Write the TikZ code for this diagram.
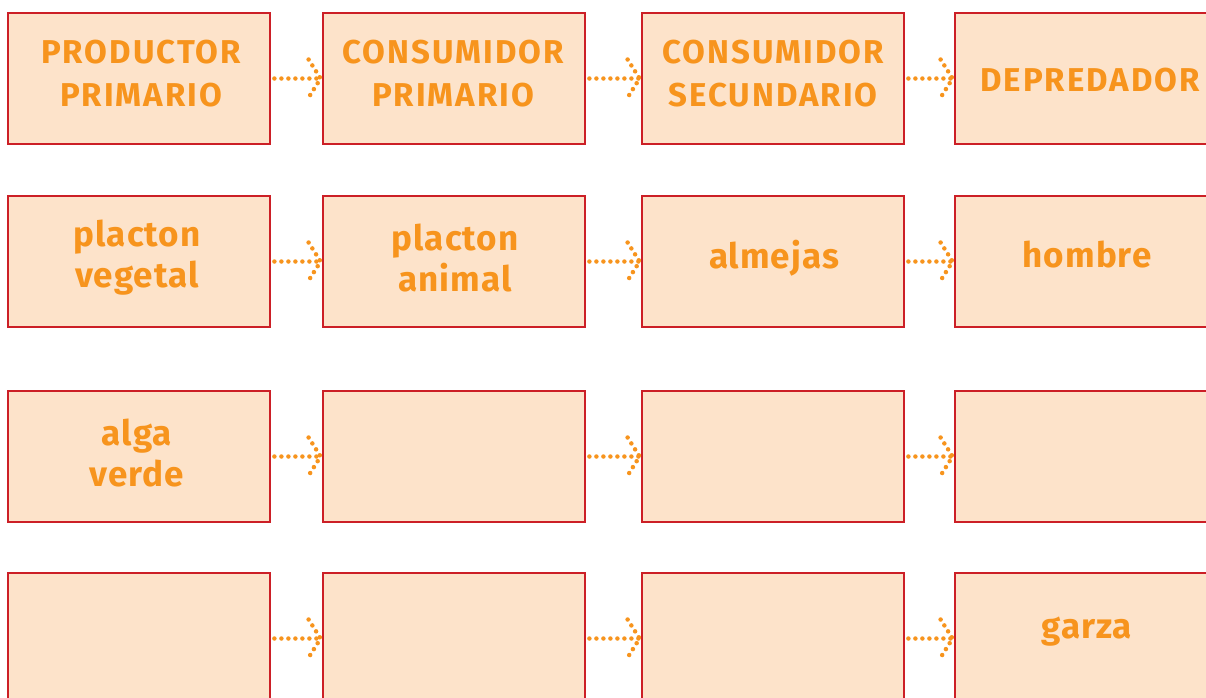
\documentclass[tikz,border=0pt]{standalone}
\usepackage{fontspec}
\setmainfont{Fira Sans}
\definecolor{boxfill}{HTML}{FDE3CA}
\definecolor{boxline}{HTML}{CC1F26}
\definecolor{txt}{HTML}{F7941D}
\tikzset{
  box/.style={draw=boxline, fill=boxfill, line width=2.8pt, minimum width=262pt, minimum height=131pt, inner sep=0pt},
  captxt/.style={text=txt, font=\fontsize{33}{43}\selectfont\bfseries\addfontfeature{LetterSpace=6}, align=center, inner sep=0pt},
  lowtxt/.style={text=txt, font=\fontsize{35}{41}\selectfont\bfseries\addfontfeature{LetterSpace=3}, align=center, inner sep=0pt},
  dotline/.style={draw=txt, line width=4.5pt, line cap=round, dash pattern=on 0pt off 7pt},
}
\begin{document}
\begin{tikzpicture}[x=1pt,y=-1pt]
\useasboundingbox (0,0) rectangle (1206,697);
% boxes
\foreach \r/\cy in {1/78.5,2/261.5,3/456.5,4/638.5}{
  \foreach \c/\cx in {1/139,2/454,3/773,4/1086}{
    \node[box] (b\r\c) at (\cx,\cy) {};
  }
}
% arrows
\foreach \r in {1,2,3,4}{
  \foreach \a/\b in {1/2,2/3,3/4}{
    \draw[dotline] ([xshift=3pt]b\r\a.east) -- ([xshift=-1pt]b\r\b.west);
    \draw[dotline] ([shift={(-13pt,19pt)}]b\r\b.west) -- ([xshift=-1pt]b\r\b.west) -- ([shift={(-13pt,-19pt)}]b\r\b.west);
  }
}
% texts
\node[captxt] (t11) at (141,74) {PRODUCTOR\\PRIMARIO};
\node[captxt] (t12) at (453,74) {CONSUMIDOR\\PRIMARIO};
\node[captxt] (t13) at (773,74) {CONSUMIDOR\\SECUNDARIO};
\node[captxt] (t14) at (1090,80) {DEPREDADOR};
\node[lowtxt] (t21) at (137,258) {placton\\vegetal};
\node[lowtxt] (t22) at (455,258) {placton\\animal};
\node[lowtxt] (t23) at (774,258) {almejas};
\node[lowtxt] (t24) at (1087,255) {hombre};
\node[lowtxt] (t31) at (137,453) {alga\\verde};
\node[lowtxt] (t44) at (1087,632) {garza};
\end{tikzpicture}
\end{document}
